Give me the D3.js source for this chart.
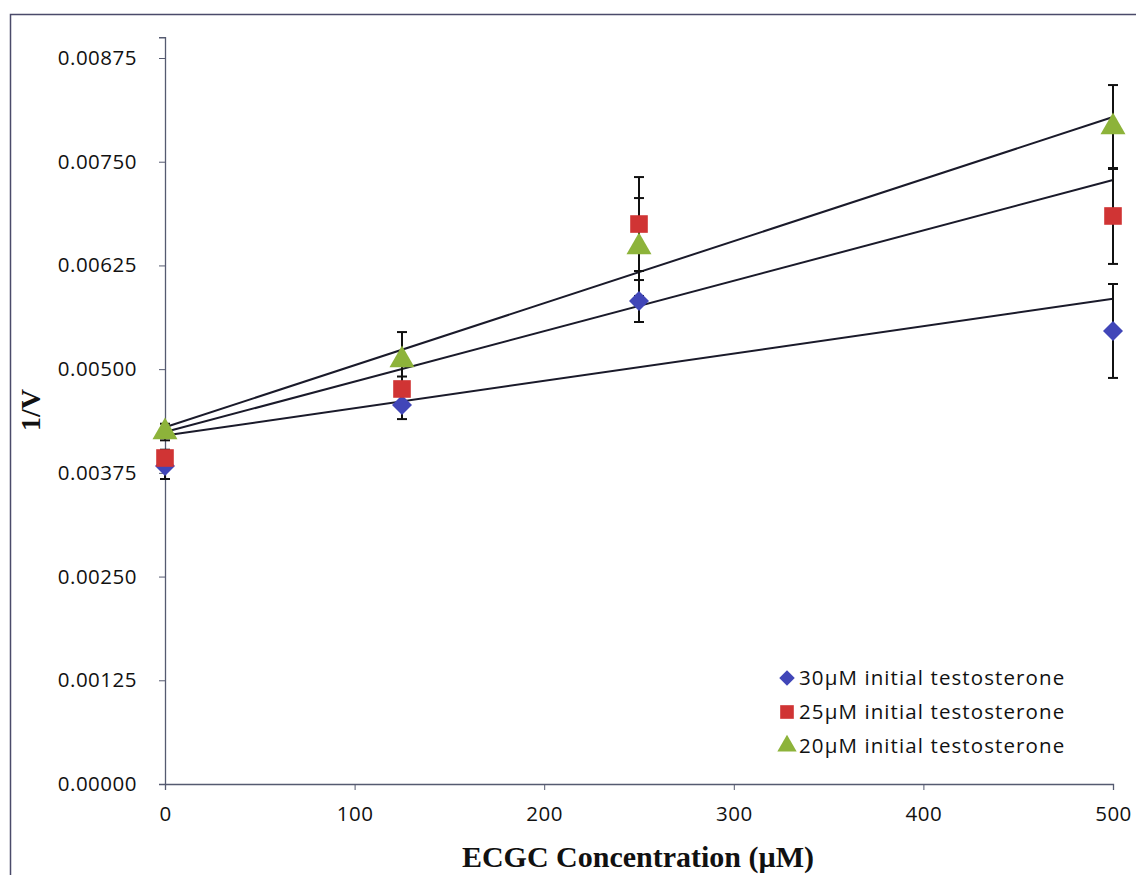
<!DOCTYPE html>
<html>
<head>
<meta charset="utf-8">
<script src="https://cdn.jsdelivr.net/npm/d3@7/dist/d3.min.js"></script>
<style>
  html, body { margin: 0; padding: 0; background: #fff; }
  svg { display: block; }
</style>
</head>
<body>
<svg id="chart" width="1136" height="875"></svg>
<script>
// ECGC concentrations (µM)
const concentrations = [0, 125, 250, 500];

// Series names
const seriesNames = [
  "30µM initial testosterone",
  "25µM initial testosterone",
  "20µM initial testosterone"
];

// 1/V values per series
const values30 = [0.003833, 0.004568, 0.005821, 0.005460];
const values25 = [0.003929, 0.004761, 0.006749, 0.006846];
const values20 = [0.004242, 0.005110, 0.006472, 0.007918];

// Error bar half-widths per series
const errors30 = [0.000157, 0.000170, 0.000253, 0.000566];
const errors25 = [0.000100, 0.000150, 0.000566, 0.000578];
const errors20 = [0.000100, 0.000337, 0.000590, 0.000506];

// Axis ticks
const yTicks = [0, 0.00125, 0.0025, 0.00375, 0.005, 0.00625, 0.0075, 0.00875];
const xTicks = [0, 100, 200, 300, 400, 500];

const colors = ["#4146b8", "#d03434", "#8db33a"];

// Diamond drawn as a square turned 45 degrees
const diamond = {
  draw(ctx, size) {
    const r = Math.sqrt(size / 2);
    ctx.moveTo(0, -r); ctx.lineTo(r, 0); ctx.lineTo(0, r); ctx.lineTo(-r, 0); ctx.closePath();
  }
};
const shapes = [diamond, d3.symbolSquare, d3.symbolTriangle];
const sizes = [200, 310, 270];

const series = [
  { name: seriesNames[0], values: values30, errors: errors30 },
  { name: seriesNames[1], values: values25, errors: errors25 },
  { name: seriesNames[2], values: values20, errors: errors20 }
];

const tickFont = "'Open Sans', 'Noto Sans', sans-serif";
const titleFont = "'Liberation Serif', 'DejaVu Serif', serif";

const svg = d3.select("#chart");

// Outer frame
svg.append("path")
  .attr("d", "M10.5,880 V14.5 H1140")
  .attr("fill", "none")
  .attr("stroke", "#4a4a6a")
  .attr("stroke-width", 1.5);

const x = d3.scaleLinear().domain([0, 500]).range([165, 1113]);
const y = d3.scaleLinear().domain([0, 0.009]).range([784, 784 - 0.009 / 0.00125 * 103.714]);

// Y axis
const yAxis = svg.append("g")
  .attr("transform", `translate(${x(0)},0)`)
  .call(d3.axisLeft(y).tickValues(yTicks).tickFormat(d3.format(".5f")).tickSize(6).tickPadding(22));
yAxis.select(".domain").attr("stroke", "#555a70").attr("stroke-width", 1.3);
yAxis.selectAll(".tick line").attr("stroke", "#555a70");
yAxis.selectAll(".tick text")
  .attr("font-family", tickFont)
  .attr("font-size", 20.5)
  .attr("letter-spacing", 0.5)
  .attr("fill", "#111");

// X axis
const xAxis = svg.append("g")
  .attr("transform", `translate(0,${y(0)})`)
  .call(d3.axisBottom(x).tickValues(xTicks).tickFormat(d3.format("d")).tickSize(6).tickPadding(16));
xAxis.select(".domain").attr("stroke", "#555a70").attr("stroke-width", 1.3);
xAxis.selectAll(".tick line").attr("stroke", "#555a70");
xAxis.selectAll(".tick text")
  .attr("font-family", tickFont)
  .attr("font-size", 20.5)
  .attr("letter-spacing", 0.5)
  .attr("fill", "#111");

// Axis titles
svg.append("text")
  .attr("x", 638).attr("y", 867)
  .attr("text-anchor", "middle")
  .attr("font-family", titleFont)
  .attr("font-weight", "bold")
  .attr("font-size", 30)
  .attr("fill", "#111")
  .text("ECGC Concentration (µM)");

svg.append("text")
  .attr("transform", "translate(40,410) rotate(-90)")
  .attr("text-anchor", "middle")
  .attr("font-family", titleFont)
  .attr("font-weight", "bold")
  .attr("font-size", 28)
  .attr("fill", "#111")
  .text("1/V");

// Linear trend lines (least squares)
function fit(xs, ys) {
  const mx = d3.mean(xs), my = d3.mean(ys);
  let sxy = 0, sxx = 0;
  xs.forEach((xi, i) => { sxy += (xi - mx) * (ys[i] - my); sxx += (xi - mx) ** 2; });
  const slope = sxy / sxx;
  return { slope, intercept: my - slope * mx };
}

const plot = svg.append("g");

series.forEach(s => {
  const f = fit(concentrations, s.values);
  const ends = d3.extent(concentrations);
  plot.append("line")
    .attr("x1", x(ends[0])).attr("y1", y(f.intercept + f.slope * ends[0]))
    .attr("x2", x(ends[1])).attr("y2", y(f.intercept + f.slope * ends[1]))
    .attr("stroke", "#1a1a2a")
    .attr("stroke-width", 2);
});

// Error bars
series.forEach(s => {
  const g = plot.append("g");
  concentrations.forEach((c, i) => {
    const lo = y(s.values[i] - s.errors[i]);
    const hi = y(s.values[i] + s.errors[i]);
    const cx = x(c);
    g.append("line").attr("x1", cx).attr("x2", cx).attr("y1", lo).attr("y2", hi)
      .attr("stroke", "#111").attr("stroke-width", 2);
    [lo, hi].forEach(v => {
      g.append("line").attr("x1", cx - 5).attr("x2", cx + 5).attr("y1", v).attr("y2", v)
        .attr("stroke", "#111").attr("stroke-width", 2);
    });
  });
});

// Markers
series.forEach((s, k) => {
  plot.append("g").selectAll("path")
    .data(concentrations)
    .join("path")
    .attr("transform", (c, i) => `translate(${x(c)},${y(s.values[i])})`)
    .attr("d", d3.symbol().type(shapes[k]).size(sizes[k]))
    .attr("fill", colors[k]);
});

// Legend
const legend = svg.append("g");
series.forEach((s, k) => {
  const ly = 678 + k * 34;
  legend.append("path")
    .attr("transform", `translate(787,${ly})`)
    .attr("d", d3.symbol().type(shapes[k]).size(sizes[k] * 0.6))
    .attr("fill", colors[k]);
  legend.append("text")
    .attr("x", 799).attr("y", ly)
    .attr("dy", "0.35em")
    .attr("font-family", tickFont)
    .attr("font-size", 20.5)
    .attr("letter-spacing", 1.1)
    .attr("fill", "#111")
    .text(s.name);
});
</script>
</body>
</html>
